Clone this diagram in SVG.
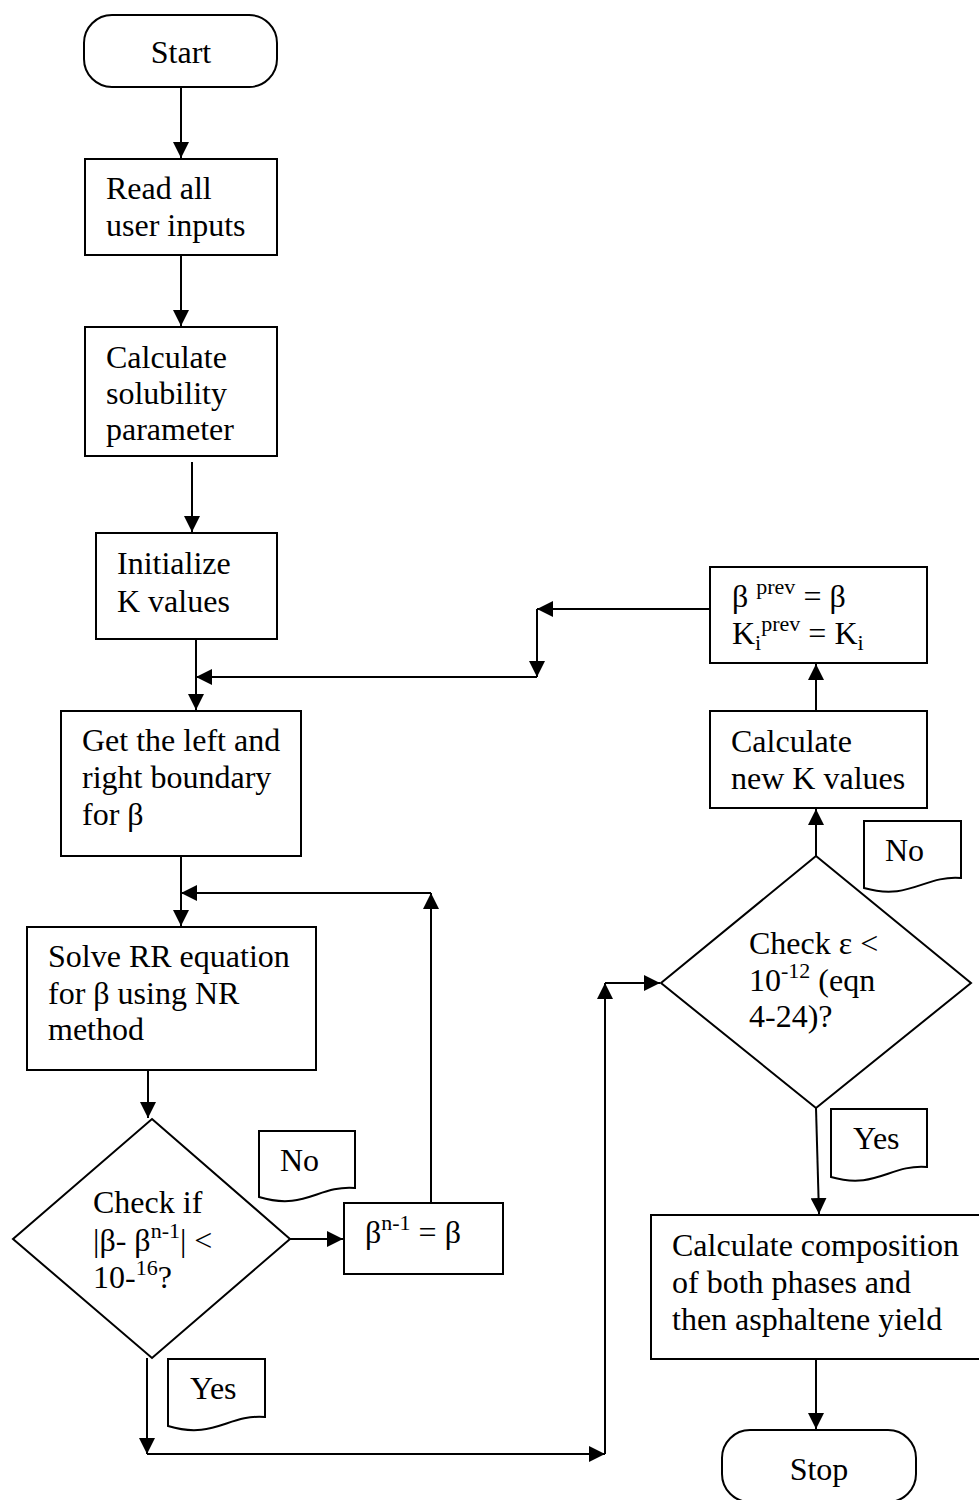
<svg xmlns="http://www.w3.org/2000/svg" width="979" height="1500" viewBox="0 0 979 1500">
<style>
.s{fill:#fff;stroke:#000;stroke-width:2}
.c{fill:none;stroke:#000;stroke-width:2}
.t{font-family:"Liberation Serif","Times New Roman",serif;font-size:32px;fill:#000}
.sm{font-size:22px}
</style>
<defs>
<marker id="ah" markerUnits="userSpaceOnUse" markerWidth="17" markerHeight="16" refX="16" refY="8" orient="auto">
<path d="M0,0 L16,8 L0,16 Z" fill="#000"/>
</marker>
</defs>
<rect width="979" height="1500" fill="#fff"/>
<g id="connectors">
<path class="c" d="M181,87 V158" marker-end="url(#ah)"/>
<path class="c" d="M181,255 V326" marker-end="url(#ah)"/>
<path class="c" d="M192,462 V532" marker-end="url(#ah)"/>
<path class="c" d="M196,639 V710" marker-end="url(#ah)"/>
<path class="c" d="M710,609 H537" marker-end="url(#ah)"/>
<path class="c" d="M537,609 V677" marker-end="url(#ah)"/>
<path class="c" d="M537,677 H196" marker-end="url(#ah)"/>
<path class="c" d="M181,856 V926" marker-end="url(#ah)"/>
<path class="c" d="M431,1203 V893" marker-end="url(#ah)"/>
<path class="c" d="M431,893 H181" marker-end="url(#ah)"/>
<path class="c" d="M148,1070 V1118" marker-end="url(#ah)"/>
<path class="c" d="M290,1239 H343" marker-end="url(#ah)"/>
<path class="c" d="M147,1358 V1454" marker-end="url(#ah)"/>
<path class="c" d="M147,1454 H605" marker-end="url(#ah)"/>
<path class="c" d="M605,1454 V983" marker-end="url(#ah)"/>
<path class="c" d="M605,983 H660" marker-end="url(#ah)"/>
<path class="c" d="M816,856 V809" marker-end="url(#ah)"/>
<path class="c" d="M816,711 V664" marker-end="url(#ah)"/>
<path class="c" d="M816,1108 L819,1214" marker-end="url(#ah)"/>
<path class="c" d="M816,1359 V1429" marker-end="url(#ah)"/>
</g>
<g id="start">
<rect class="s" x="84" y="15" width="193" height="72" rx="28" ry="28"/>
<text class="t" x="181" y="63" text-anchor="middle">Start</text>
</g>
<g id="read">
<rect class="s" x="85" y="159" width="192" height="96"/>
<text class="t" x="106" y="199">Read all</text>
<text class="t" x="106" y="236">user inputs</text>
</g>
<g id="solubility">
<rect class="s" x="85" y="327" width="192" height="129"/>
<text class="t" x="106" y="368">Calculate</text>
<text class="t" x="106" y="404">solubility</text>
<text class="t" x="106" y="440">parameter</text>
</g>
<g id="initk">
<rect class="s" x="96" y="533" width="181" height="106"/>
<text class="t" x="117" y="574">Initialize</text>
<text class="t" x="117" y="612">K values</text>
</g>
<g id="boundary">
<rect class="s" x="61" y="711" width="240" height="145"/>
<text class="t" x="82" y="751">Get the left and</text>
<text class="t" x="82" y="788">right boundary</text>
<text class="t" x="82" y="825">for β</text>
</g>
<g id="solve">
<rect class="s" x="27" y="927" width="289" height="143"/>
<text class="t" x="48" y="967">Solve RR equation</text>
<text class="t" x="48" y="1004">for β using NR</text>
<text class="t" x="48" y="1040">method</text>
</g>
<g id="check1">
<polygon class="s" points="152,1119 290,1239 152,1358 13,1239"/>
<text class="t" x="93" y="1213">Check if</text>
<text class="t" x="93" y="1251">|β- β<tspan class="sm" dy="-13">n-1</tspan><tspan dy="13">| &lt;</tspan></text>
<text class="t" x="93" y="1288">10-<tspan class="sm" dy="-13">16</tspan><tspan dy="13">?</tspan></text>
</g>
<g id="update1">
<rect class="s" x="344" y="1203" width="159" height="71"/>
<text class="t" x="365" y="1243">β<tspan class="sm" dy="-13">n-1</tspan><tspan dy="13"> = β</tspan></text>
</g>
<g id="no1">
<path class="s" d="M259,1131 H355 V1188 C318,1185 305,1211 259,1197 Z"/>
<text class="t" x="280" y="1171">No</text>
</g>
<g id="yes1">
<path class="s" d="M168,1359 H265 V1417 C228,1414 214,1440 168,1426 Z"/>
<text class="t" x="190" y="1399">Yes</text>
</g>
<g id="check2">
<polygon class="s" points="816,856 971,983 816,1108 661,983"/>
<text class="t" x="749" y="954">Check ε &lt;</text>
<text class="t" x="749" y="991">10<tspan class="sm" dy="-13">-12</tspan><tspan dy="13"> (eqn</tspan></text>
<text class="t" x="749" y="1027">4-24)?</text>
</g>
<g id="no2">
<path class="s" d="M864,821 H961 V878 C924,875 910,901 864,888 Z"/>
<text class="t" x="885" y="861">No</text>
</g>
<g id="yes2">
<path class="s" d="M831,1109 H927 V1167 C890,1164 876,1190 831,1177 Z"/>
<text class="t" x="853" y="1149">Yes</text>
</g>
<g id="newk">
<rect class="s" x="710" y="711" width="217" height="97"/>
<text class="t" x="731" y="752">Calculate</text>
<text class="t" x="731" y="789">new K values</text>
</g>
<g id="prev">
<rect class="s" x="710" y="567" width="217" height="96"/>
<text class="t" x="732" y="607">β <tspan class="sm" dy="-13">prev</tspan><tspan dy="13"> = β</tspan></text>
<text class="t" x="732" y="644">K<tspan class="sm" dy="6">i</tspan><tspan class="sm" dy="-19">prev</tspan><tspan dy="13"> = K</tspan><tspan class="sm" dy="6">i</tspan></text>
</g>
<g id="composition">
<rect class="s" x="651" y="1215" width="330" height="144"/>
<text class="t" x="672" y="1256">Calculate composition</text>
<text class="t" x="672" y="1293">of both phases and</text>
<text class="t" x="672" y="1330">then asphaltene yield</text>
</g>
<g id="stop">
<rect class="s" x="722" y="1430" width="194" height="72" rx="28" ry="28"/>
<text class="t" x="819" y="1480" text-anchor="middle">Stop</text>
</g>
</svg>
